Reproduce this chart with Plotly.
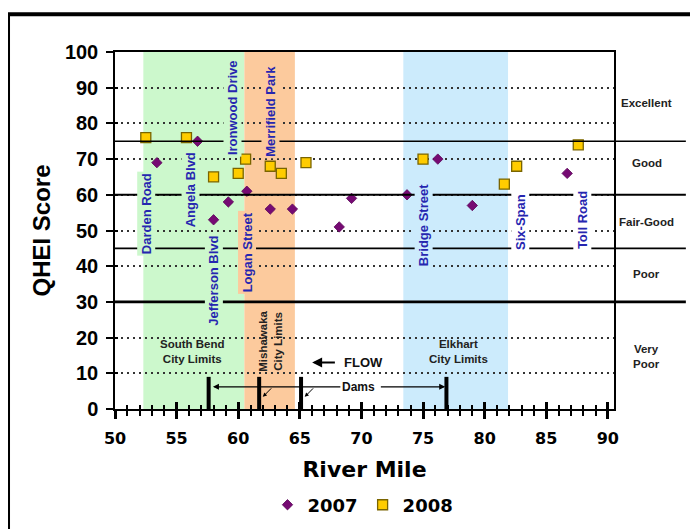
import plotly.graph_objects as go

# ---------------- data ----------------
miles_2007 = [53.4, 56.7, 58.0, 59.2, 60.7, 62.6, 64.4, 68.2, 69.2, 73.7, 76.2, 79.0, 86.7]
qhei_2007 = [69, 75, 53, 58, 61, 56, 56, 51, 59, 60, 70, 57, 66]

miles_2008 = [52.5, 55.8, 58.0, 60.0, 60.6, 62.6, 63.5, 65.5, 75.0, 81.6, 82.6, 87.6]
qhei_2008 = [76, 76, 65, 66, 70, 68, 66, 69, 70, 63, 68, 74]

site_names = ["Darden Road", "Angela Blvd", "Jefferson Blvd", "Ironwood Drive",
              "Logan Street", "Merrifield Park", "Bridge Street", "Six-Span", "Toll Road"]
site_miles = [52.55, 56.1, 58.0, 59.5, 60.75, 62.65, 75.05, 82.9, 87.9]
site_label_y = [54.7, 61.3, 35.8, 84.3, 44.0, 83.5, 51.4, 52.5, 52.9]

city_names = ["South Bend<br>City Limits", "Mishawaka<br>City Limits", "Elkhart<br>City Limits"]
city_start = [52.3, 60.5, 73.4]
city_end = [60.5, 64.6, 81.9]
city_label_x = [56.3, 62.6, 77.9]
city_label_y = [16.2, 18.9, 16.2]
city_label_angle = [0, -90, 0]
city_colors = ["#ccf8cc", "#fcca9d", "#ccebfc"]

dam_miles = [57.6, 61.7, 65.1, 76.9]
dam_height = 9

class_breaks = [75, 60, 45, 30]
class_line_widths = [1.3, 2.0, 1.6, 2.6]
class_names = ["Excellent", "Good", "Fair-Good", "Poor", "Very<br>Poor"]
class_label_y = [85.7, 68.9, 52.4, 37.8, 14.6]

x_ticks = [50, 55, 60, 65, 70, 75, 80, 85, 90]
y_ticks = [0, 10, 20, 30, 40, 50, 60, 70, 80, 90, 100]

X_RANGE = [50, 90.5]
Y_RANGE = [0, 100]

label_blue = "#2626b0"

fig = go.Figure()

# dams (bars) drawn on overlay axes
dam_x, dam_y = [], []
for m in dam_miles:
    dam_x += [m, m, None]
    dam_y += [0, dam_height, None]
fig.add_trace(go.Scatter(x=dam_x, y=dam_y, mode="lines", xaxis="x2", yaxis="y2",
                         line=dict(color="black", width=4), showlegend=False,
                         hoverinfo="skip"))

fig.add_trace(go.Scatter(x=miles_2007, y=qhei_2007, mode="markers", name="2007",
                         marker=dict(symbol="diamond", size=8, color="#760a73",
                                     line=dict(color="#5a0558", width=0.8))))
fig.add_trace(go.Scatter(x=miles_2008, y=qhei_2008, mode="markers", name="2008",
                         marker=dict(symbol="square", size=10, color="#ffcc00",
                                     line=dict(color="#7a6500", width=1.3))))

shapes = []
# city bands
for s, e, c in zip(city_start, city_end, city_colors):
    shapes.append(dict(type="rect", xref="x", yref="y domain", x0=s, x1=e, y0=0, y1=1,
                       fillcolor=c, line=dict(width=0), layer="below"))
# class break lines
for b, w in zip(class_breaks, class_line_widths):
    shapes.append(dict(type="line", xref="paper", yref="y", x0=0, x1=1.144, y0=b, y1=b,
                       line=dict(color="black", width=w), layer="above"))
# outer frame
shapes.append(dict(type="rect", xref="paper", yref="paper", x0=-0.2144, x1=1.4,
                   y0=-0.6, y1=1.106, line=dict(color="black", width=4)))

annotations = []


def band_color(m):
    for s, e, c in zip(city_start, city_end, city_colors):
        if s <= m <= e:
            return c
    return "white"


for name, m, yy in zip(site_names, site_miles, site_label_y):
    annotations.append(dict(x=m, y=yy, xref="x", yref="y", text=name, showarrow=False,
                            textangle=-90, bgcolor=band_color(m), borderpad=1,
                            font=dict(family="Liberation Sans", size=13, color=label_blue,
                                      weight="bold")))

for name, xx, yy, ang in zip(city_names, city_label_x, city_label_y, city_label_angle):
    annotations.append(dict(x=xx, y=yy, xref="x", yref="y", text=name, showarrow=False,
                            textangle=ang,
                            font=dict(family="Liberation Sans", size=11.5, color="#222222",
                                      weight="bold")))

for name, yy in zip(class_names, class_label_y):
    annotations.append(dict(x=1.066, y=yy, xref="paper", yref="y", text=name,
                            showarrow=False, xanchor="center", yanchor="middle",
                            font=dict(family="Liberation Sans", size=11.5, color="#222222",
                                      weight="bold")))

# FLOW arrow
annotations.append(dict(x=66.0, y=13.0, ax=70.2, ay=13.0, xref="x", yref="y",
                        axref="x", ayref="y", text="FLOW", showarrow=True,
                        arrowhead=2, arrowsize=1, arrowwidth=2, arrowcolor="black",
                        startstandoff=8,
                        font=dict(family="Liberation Sans", size=13, color="#111111",
                                  weight="bold")))
# Dams arrows
annotations.append(dict(x=dam_miles[0] + 0.35, y=6.2, ax=69.75, ay=6.2, xref="x", yref="y",
                        axref="x", ayref="y", text="Dams", showarrow=True,
                        arrowhead=2, arrowsize=1, arrowwidth=1.2, arrowcolor="black",
                        font=dict(family="Liberation Sans", size=12, color="#111111",
                                  weight="bold")))
annotations.append(dict(x=dam_miles[3] - 0.1, y=6.2, ax=69.75, ay=6.2, xref="x", yref="y",
                        axref="x", ayref="y", text="", showarrow=True, startstandoff=21,
                        arrowhead=2, arrowsize=1, arrowwidth=1.2, arrowcolor="black"))
for m in dam_miles[1:3]:
    annotations.append(dict(x=m + 0.3, y=3.4, ax=m + 1.1, ay=6.2, xref="x", yref="y",
                            axref="x", ayref="y", text="", showarrow=True,
                            arrowhead=2, arrowsize=0.8, arrowwidth=1, arrowcolor="black"))

tick_font_x = dict(family="DejaVu Sans", size=16, color="black", weight="bold")
tick_font_y = dict(family="Liberation Sans", size=20, color="black", weight="bold")

fig.update_layout(
    width=690, height=521,
    margin=dict(l=107, r=84, t=44, b=120),
    paper_bgcolor="white", plot_bgcolor="white",
    shapes=shapes, annotations=annotations,
    showlegend=True,
    legend=dict(orientation="h", xref="paper", x=0.497, yref="container", y=0.046,
                xanchor="center", yanchor="middle",
                font=dict(family="DejaVu Sans", size=18, color="black", weight="bold"),
                bgcolor="rgba(0,0,0,0)"),
    xaxis=dict(range=X_RANGE, tickvals=x_ticks, showgrid=False, zeroline=False,
               showline=True, linecolor="black", linewidth=2, mirror=True,
               ticks="outside", ticklen=8, tickwidth=2.5, tickcolor="black",
               minor=dict(dtick=1, ticks="outside", ticklen=5, tickwidth=1.5,
                          tickcolor="black", showgrid=False),
               tickfont=tick_font_x, ticklabelstandoff=6, automargin=False,
               title=dict(text="River Mile", standoff=14,
                          font=dict(family="DejaVu Sans", size=22, color="black",
                                    weight="bold"))),
    yaxis=dict(range=Y_RANGE, tickvals=y_ticks, showgrid=True, gridcolor="#333333",
               gridwidth=2, griddash="2px,4px", zeroline=False,
               showline=True, linecolor="black", linewidth=1.5, mirror=True,
               ticks="outside", ticklen=7, tickwidth=1.5, tickcolor="black",
               tickfont=tick_font_y, ticklabelstandoff=4, automargin=False,
               title=dict(text="QHEI Score", standoff=7,
                          font=dict(family="Liberation Sans", size=24, color="black",
                                    weight="bold"))),
    xaxis2=dict(range=X_RANGE, overlaying="x", anchor="y2", side="bottom",
                tickvals=x_ticks, showticklabels=False, showgrid=False, zeroline=False,
                showline=False, ticks="inside", ticklen=7, tickwidth=2.5,
                tickcolor="black", automargin=False,
                minor=dict(dtick=1, ticks="inside", ticklen=4, tickwidth=1.5,
                           tickcolor="black", showgrid=False)),
    yaxis2=dict(range=Y_RANGE, overlaying="y", anchor="x2", side="left",
                tickvals=y_ticks, showticklabels=False, showgrid=False, zeroline=False,
                showline=False, ticks="inside", ticklen=3, tickwidth=1.5,
                tickcolor="black", automargin=False),
)

fig.write_html("out.html")
